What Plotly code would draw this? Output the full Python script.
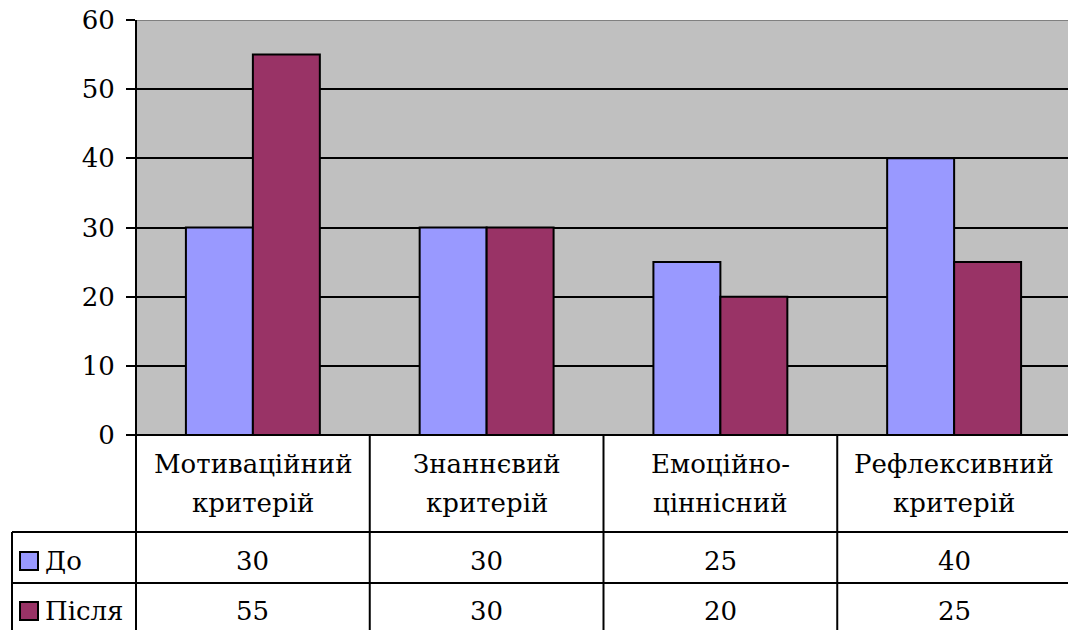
import plotly.graph_objects as go

# Data
category_lines = [
    ["Мотиваційний", "критерій"],
    ["Знаннєвий", "критерій"],
    ["Емоційно-", "ціннісний"],
    ["Рефлексивний", "критерій"],
]
categories = [" ".join(c) for c in category_lines]
series_names = ["До", "Після"]
before = [30, 30, 25, 40]
after = [55, 30, 20, 25]
y_ticks = [0, 10, 20, 30, 40, 50, 60]

colors = ["#9999FF", "#993366"]
W, H = 1068, 630
FONT = "DejaVu Serif"
FS = 26


def px(x):
    return x / W


def py(y):
    return 1 - y / H


fig = go.Figure()
for name, vals, col in zip(series_names, [before, after], colors):
    fig.add_trace(go.Bar(
        x=categories, y=vals, name=name,
        marker=dict(color=col, line=dict(color="black", width=2)),
        showlegend=False,
    ))

x_left = 136
cat_px = 233.75
x_end = -0.5 + (W - x_left) / cat_px

fig.update_layout(
    width=W, height=H,
    autosize=False,
    margin=dict(l=0, r=0, t=0, b=0, pad=0),
    paper_bgcolor="white",
    plot_bgcolor="#C0C0C0",
    barmode="group",
    bargap=0.427,
    bargroupgap=0,
    font=dict(family=FONT, color="black", size=FS),
    xaxis=dict(
        domain=[px(x_left), 1],
        range=[-0.5, x_end],
        showticklabels=False, showgrid=False, ticks="",
        showline=False, zeroline=False, automargin=False,
    ),
    yaxis=dict(
        domain=[py(435), py(20)],
        range=[0, 60],
        tickvals=y_ticks,
        ticks="outside", ticklen=9, tickwidth=2, tickcolor="black",
        ticklabelstandoff=6,
        tickfont=dict(family=FONT, size=FS, color="black"),
        showgrid=True, gridcolor="black", gridwidth=2,
        zeroline=True, zerolinecolor="black", zerolinewidth=2,
        showline=False, automargin=False,
    ),
)

shapes = []
# top border of plot area
shapes.append(dict(type="line", xref="paper", yref="y", x0=px(x_left), x1=1,
                   y0=60, y1=60, line=dict(color="#808080", width=2)))
# axis line running down through the table
shapes.append(dict(type="line", xref="paper", yref="paper", x0=px(x_left), x1=px(x_left),
                   y0=py(20), y1=0, line=dict(color="black", width=2)))
# table column separators
for i in range(len(categories) - 1):
    shapes.append(dict(type="line", xref="x", yref="paper", x0=i + 0.5, x1=i + 0.5,
                       y0=py(435), y1=0, line=dict(color="black", width=2)))
# table row lines
for yy in [532, 583]:
    shapes.append(dict(type="line", xref="paper", yref="paper", x0=px(12), x1=1,
                       y0=py(yy), y1=py(yy), line=dict(color="black", width=2)))
# legend column left edge
shapes.append(dict(type="line", xref="paper", yref="paper", x0=px(12), x1=px(12),
                   y0=py(532), y1=0, line=dict(color="black", width=2)))

annotations = []
# category header cells
for cat, lines in zip(categories, category_lines):
    for yy, line in zip([464, 503], lines):
        annotations.append(dict(x=cat, xref="x", y=py(yy), yref="paper", text=line,
                                showarrow=False, xanchor="center", yanchor="middle",
                                font=dict(family=FONT, size=FS, color="black")))

# data rows with legend keys
row_centers = [561, 611]
for name, vals, col, yc in zip(series_names, [before, after], colors, row_centers):
    shapes.append(dict(type="rect", xref="paper", yref="paper",
                       x0=px(20), x1=px(38), y0=py(yc - 9), y1=py(yc + 9),
                       fillcolor=col, line=dict(color="black", width=2)))
    annotations.append(dict(x=px(43), xref="paper", y=py(yc), yref="paper", text=name,
                            showarrow=False, xanchor="left", yanchor="middle",
                            font=dict(family=FONT, size=FS, color="black")))
    for cat, v in zip(categories, vals):
        annotations.append(dict(x=cat, xref="x", y=py(yc), yref="paper", text=str(v),
                                showarrow=False, xanchor="center", yanchor="middle",
                                font=dict(family=FONT, size=FS, color="black")))

fig.update_layout(shapes=shapes, annotations=annotations)
fig.write_html("out.html")
